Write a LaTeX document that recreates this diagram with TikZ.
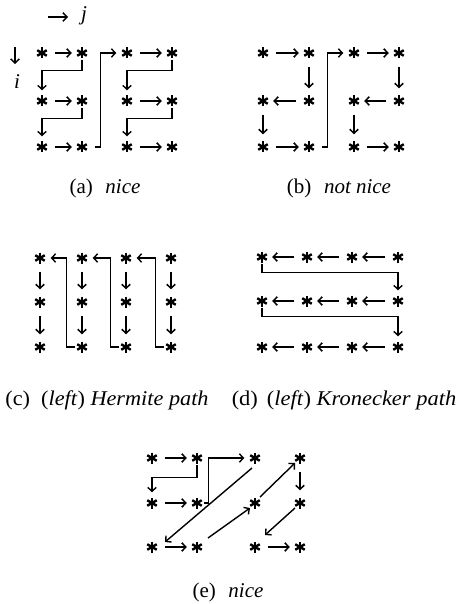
\documentclass[tikz,border=0pt]{standalone}
\usepackage{fontspec}
\setmainfont{Liberation Serif}
\usetikzlibrary{arrows.meta}
\begin{document}
\begin{tikzpicture}[x=1pt,y=-1pt,
  >={Straight Barb[length=4pt,width=8.5pt]},
  st/.style={circle, minimum size=13pt, inner sep=0pt, path picture={
    \foreach \ang in {90,30,150}{\draw[line width=2.4pt] ([shift={(\ang:5.5pt)}]path picture bounding box.center) -- ([shift={(\ang+180:5.5pt)}]path picture bounding box.center);}}},
  ha/.style={->, line width=1.5pt, shorten <=6pt, shorten >=3.5pt},
  va/.style={->, line width=1.5pt, shorten <=7pt, shorten >=6pt},
  el/.style={->, line width=1.4pt, shorten >=4pt},
  dg/.style={->, line width=1.4pt},
  captxt/.style={font=\fontsize{21}{25}\selectfont, inner sep=0pt},
  lab/.style={font=\fontsize{21}{25}\selectfont\itshape, inner sep=0pt}]
\useasboundingbox (0,0) rectangle (458,604);

% ---------- (a)
\foreach \c/\x in {1/42,2/82,3/127,4/172}{
  \foreach \r/\y in {1/53,2/101,3/147}{\node[st] (a\r\c) at (\x,\y) {};}}
\node[lab] (j) at (84,16) {j};
\coordinate (jt) at (48,17);
\coordinate (jh) at (68,17);
\draw[->, line width=1.5pt] (jt) -- (jh);
\node[lab] (i) at (17,82) {i};
\coordinate (it) at (15,47);
\coordinate (ib) at (15,64);
\draw[->, line width=1.5pt] (it) -- (ib);
\draw[ha] (a11) -- (a12);
\draw[ha] (a21) -- (a22);
\draw[ha] (a31) -- (a32);
\draw[ha] (a13) -- (a14);
\draw[ha] (a23) -- (a24);
\draw[ha] (a33) -- (a34);
\draw[el] (a12.south) -- ++(0,11) -| (a21.north);
\draw[el] (a22.south) -- ++(0,11) -| (a31.north);
\draw[el] (a14.south) -- ++(0,11) -| (a23.north);
\draw[el] (a24.south) -- ++(0,11) -| (a33.north);
\draw[el, shorten <=6pt] (a32.east) -- ++(12,0) |- (a13.west);
\node[captxt] (capa) at (105,188) {(a)\hspace{0.6em}\textit{nice}};

% ---------- (b)
\foreach \c/\x in {1/263,2/309,3/354,4/399}{
  \foreach \r/\y in {1/53,2/101,3/147}{\node[st] (b\r\c) at (\x,\y) {};}}
\draw[ha] (b11) -- (b12);
\draw[va] (b12) -- (b22);
\draw[ha] (b22) -- (b21);
\draw[va] (b21) -- (b31);
\draw[ha] (b31) -- (b32);
\draw[el, shorten <=6pt] (b32.east) -- ++(12,0) |- (b13.west);
\draw[ha] (b13) -- (b14);
\draw[va] (b14) -- (b24);
\draw[ha] (b24) -- (b23);
\draw[va] (b23) -- (b33);
\draw[ha] (b33) -- (b34);
\node[captxt] (capb) at (339,188) {(b)\hspace{0.6em}\textit{not nice}};

% ---------- (c)
\foreach \c/\x in {1/40,2/82,3/126,4/171}{
  \foreach \r/\y in {1/258,2/302,3/347}{\node[st] (c\r\c) at (\x,\y) {};}}
\foreach \c in {1,2,3,4}{
  \draw[va] (c1\c) -- (c2\c);
  \draw[va] (c2\c) -- (c3\c);}
\draw[el] (c32.west) -- ++(-9,0) |- (c11.east);
\draw[el] (c33.west) -- ++(-9,0) |- (c12.east);
\draw[el] (c34.west) -- ++(-9,0) |- (c13.east);
\node[captxt] (capc) at (107,400) {\scalebox{1.06}[1]{(c)\hspace{0.5em}(\textit{left}) \textit{Hermite path}}};

% ---------- (d)
\foreach \c/\x in {1/262,2/307,3/352,4/398}{
  \foreach \r/\y in {1/257,2/301,3/347}{\node[st] (d\r\c) at (\x,\y) {};}}
\foreach \r in {1,2,3}{
  \draw[ha] (d\r2) -- (d\r1);
  \draw[ha] (d\r3) -- (d\r2);
  \draw[ha] (d\r4) -- (d\r3);}
\draw[el] (d11.south) -- ++(0,9) -| (d24.north);
\draw[el] (d21.south) -- ++(0,9) -| (d34.north);
\node[captxt] (capd) at (344,400) {\scalebox{1.07}[1]{(d)\hspace{0.4em}(\textit{left}) \textit{Kronecker path}}};

% ---------- (e)
\foreach \c/\x in {1/152,2/197,3/255,4/300}{
  \foreach \r/\y in {1/458,2/503,3/547}{\node[st] (e\r\c) at (\x,\y) {};}}
\draw[ha] (e11) -- (e12);
\draw[ha] (e21) -- (e22);
\draw[ha] (e31) -- (e32);
\draw[ha] (e33) -- (e34);
\draw[el] (e12.south) -- ++(0,13) -| (e21.north);
\draw[el] (e22.east) -- ++(5,0) |- (e13.west);
\draw[dg] ([shift={(-3pt,-10pt)}]e13.center) -- ([shift={(13pt,5pt)}]e31.center);
\draw[dg] ([shift={(11pt,9pt)}]e32.center) -- ([shift={(-5pt,-5pt)}]e23.center);
\draw[dg] ([shift={(5pt,6pt)}]e23.center) -- ([shift={(-5pt,-5pt)}]e14.center);
\draw[va] (e14) -- (e24);
\draw[dg] ([shift={(-5pt,-5pt)}]e24.center) -- ([shift={(10pt,12pt)}]e33.center);
\node[captxt] (cape) at (228,592) {(e)\hspace{0.6em}\textit{nice}};
\end{tikzpicture}
\end{document}
